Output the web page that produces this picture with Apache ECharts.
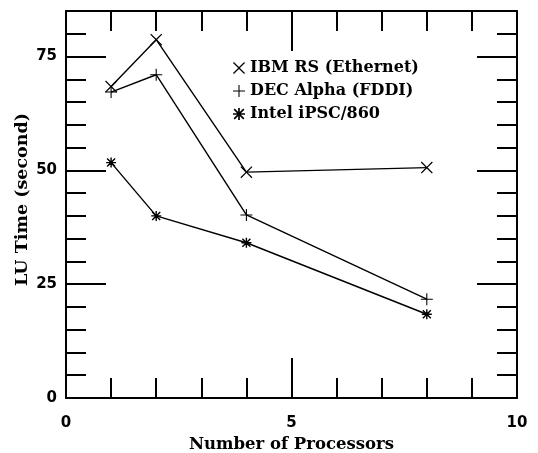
<!DOCTYPE html>
<html>
<head>
<meta charset="utf-8">
<script src="https://cdn.jsdelivr.net/npm/echarts@6/dist/echarts.min.js"></script>
<style>
  html, body { margin: 0; padding: 0; background: #fff; }
  #chart { width: 538px; height: 453px; }
</style>
</head>
<body>
<div id="chart"></div>
<script>
// data
var procs = [1, 2, 4, 8];
var ibmRS = [68.4, 78.7, 49.6, 50.6];
var decAlpha = [67.2, 71.0, 40.2, 21.7];
var inteliPSC = [51.7, 40.0, 34.1, 18.4];
var seriesNames = ['IBM RS (Ethernet)', 'DEC Alpha (FDDI)', 'Intel iPSC/860'];

// marker shapes
var crossPath = 'path://M0,1.5L1.5,0L10,8.5L18.5,0L20,1.5L11.5,10L20,18.5L18.5,20L10,11.5L1.5,20L0,18.5L8.5,10Z';
var plusPath = 'path://M9.1,0H10.9V9.1H20V10.9H10.9V20H9.1V10.9H0V9.1H9.1Z';
var starPath = 'path://M8.6,0H11.4V8.6H20V11.4H11.4V20H8.6V11.4H0V8.6H8.6Z' +
    'M1,3L3,1L10,8L17,1L19,3L12,10L19,17L17,19L10,12L3,19L1,17L8,10Z';

function pts(ys) {
    return procs.map(function (x, i) { return [x, ys[i]]; });
}

var fontSerif = 'DejaVu Serif';
var chart = echarts.init(document.getElementById('chart'));

function xAx(pos, iv, len, labels) {
    return {
        type: 'value', position: pos, min: 0, max: 10, interval: iv,
        name: labels ? 'Number of Processors' : '',
        nameLocation: 'middle', nameGap: 38,
        nameTextStyle: { fontFamily: fontSerif, fontWeight: 'bold', fontSize: 16.5, color: '#000' },
        axisLine: { show: labels, onZero: false, lineStyle: { color: '#000', width: 2 } },
        axisTick: { show: true, inside: true, length: len, lineStyle: { color: '#000', width: 2 } },
        axisLabel: { show: labels, margin: 18, color: '#000', fontFamily: 'DejaVu Sans', fontWeight: 'bold', fontSize: 15 },
        splitLine: { show: false }
    };
}
function yAx(pos, iv, len, labels) {
    return {
        type: 'value', position: pos, min: 0, max: 85, interval: iv,
        name: labels ? 'LU Time (second)' : '',
        nameLocation: 'middle', nameGap: 44, nameMoveOverlap: false,
        nameTextStyle: { fontFamily: fontSerif, fontWeight: 'bold', fontSize: 17.5, color: '#000', verticalAlign: 'middle', padding: [0, 0, 0, 10] },
        axisLine: { show: labels, onZero: false, lineStyle: { color: '#000', width: 2 } },
        axisTick: { show: true, inside: true, length: len, lineStyle: { color: '#000', width: 2 } },
        axisLabel: { show: labels, showMaxLabel: false, margin: 9, color: '#000', fontFamily: 'DejaVu Sans', fontWeight: 'bold', fontSize: 15 },
        splitLine: { show: false }
    };
}
var xTop = xAx('top', 5, 40, false); xTop.axisLine.show = true;
var yRight = yAx('right', 25, 40, false); yRight.axisLine.show = true;

var option = {
    animation: false,
    grid: { left: 66, right: 21, top: 11, bottom: 55, containLabel: false, outerBoundsMode: 'none' },
    xAxis: [
        xAx('bottom', 5, 40, true),
        xAx('bottom', 1, 20, false),
        xTop,
        xAx('top', 1, 20, false)
    ],
    yAxis: [
        yAx('left', 25, 40, true),
        yAx('left', 5, 20, false),
        yRight,
        yAx('right', 5, 20, false)
    ],
    legend: {
        orient: 'vertical', left: 228, top: 55, itemGap: 7,
        itemWidth: 12, itemHeight: 12,
        textStyle: { fontFamily: fontSerif, fontWeight: 'bold', fontSize: 16, color: '#000' },
        data: [
            { name: seriesNames[0], icon: crossPath },
            { name: seriesNames[1], icon: plusPath },
            { name: seriesNames[2], icon: starPath }
        ]
    },
    series: [
        { name: seriesNames[0], type: 'line', data: pts(ibmRS), symbol: crossPath, symbolSize: 12 },
        { name: seriesNames[1], type: 'line', data: pts(decAlpha), symbol: plusPath, symbolSize: 12 },
        { name: seriesNames[2], type: 'line', data: pts(inteliPSC), symbol: starPath, symbolSize: 10 }
    ].map(function (s) {
        s.xAxisIndex = 0; s.yAxisIndex = 0;
        s.showAllSymbol = true;
        s.itemStyle = { color: '#000' };
        s.lineStyle = { color: '#000', width: 1.4 };
        return s;
    })
};
chart.setOption(option);
</script>
</body>
</html>
